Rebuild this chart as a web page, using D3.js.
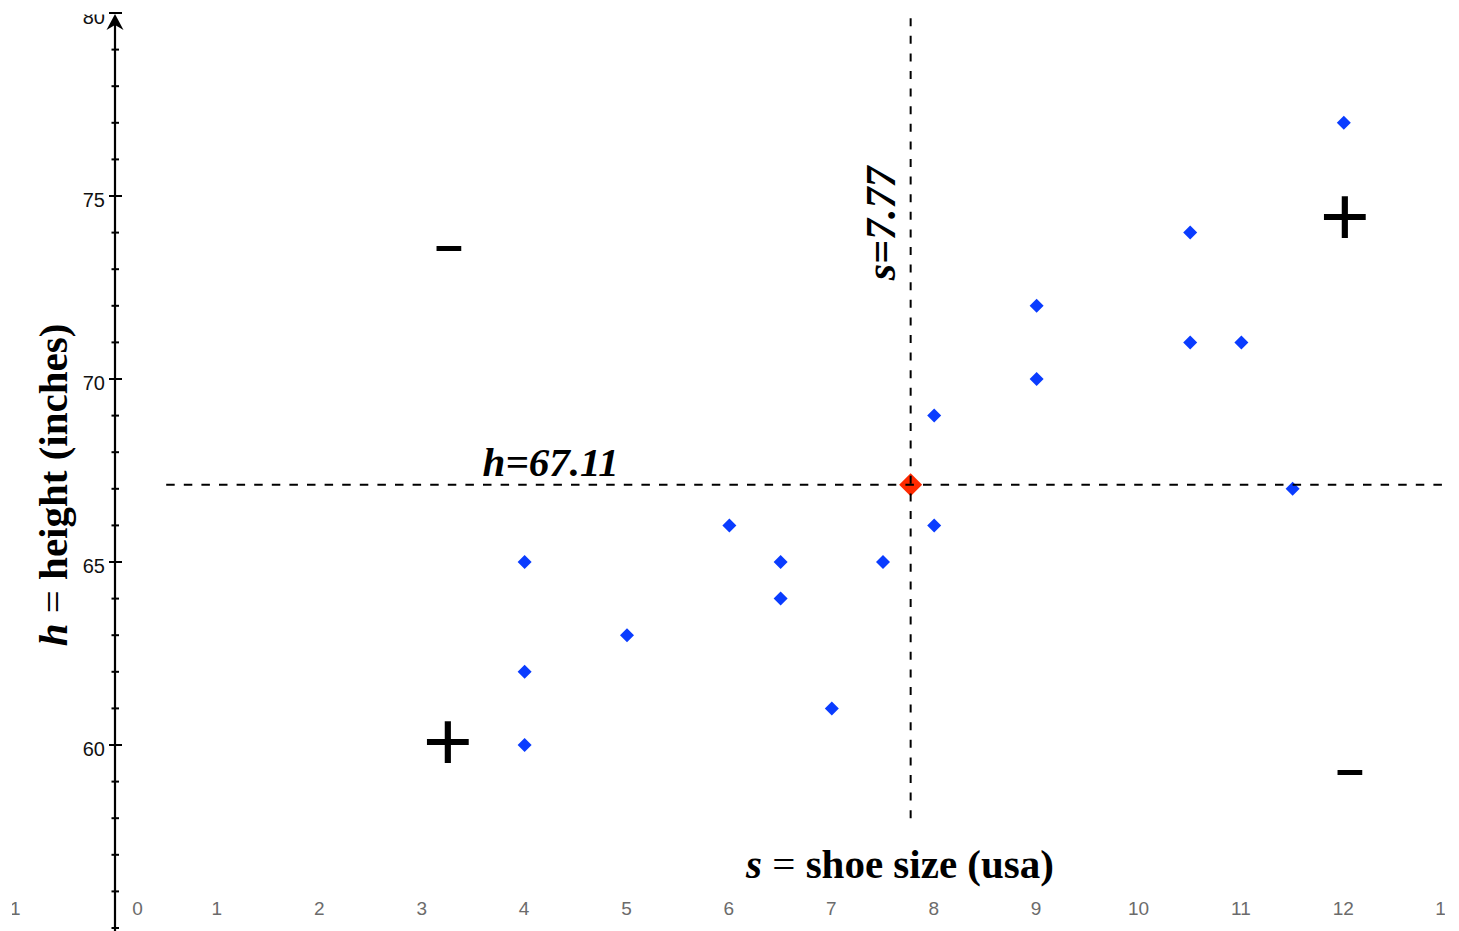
<!DOCTYPE html>
<html>
<head>
<meta charset="utf-8">
<script src="https://cdn.jsdelivr.net/npm/d3@7"></script>
<style>
  html, body { margin: 0; padding: 0; background: #fff; }
  svg { display: block; }
</style>
</head>
<body>
<script>
// ---- data ----
const shoeSize = [4, 4, 4, 5, 6, 6.5, 6.5, 7, 7.5, 8, 8, 9, 9, 10.5, 10.5, 11, 11.5, 12];
const heightIn = [65, 62, 60, 63, 66, 65, 64, 61, 65, 69, 66, 72, 70, 74, 71, 71, 67, 77];
const meanS = 7.77;
const meanH = 67.11;
const xTickValues = [-1, 0, 1, 2, 3, 4, 5, 6, 7, 8, 9, 10, 11, 12, 13];
const xTickLabels = ["-1", "0", "1", "2", "3", "4", "5", "6", "7", "8", "9", "10", "11", "12", "13"];
const yMajorTicks = [60, 65, 70, 75, 80];
const yMajorLabels = ["60", "65", "70", "75", "80"];
const yMinorTicks = [55, 56, 57, 58, 59, 61, 62, 63, 64, 66, 67, 68, 69, 71, 72, 73, 74, 76, 77, 78, 79];
const quadrantSigns = [
  { s: 3.26, h: 73.58, sign: "minus" },
  { s: 12.01, h: 74.48, sign: "plus" },
  { s: 3.25, h: 60.14, sign: "plus" },
  { s: 12.06, h: 59.26, sign: "minus" }
];

const W = 1459, H = 931;
const svg = d3.select("body").append("svg").attr("width", W).attr("height", H);
svg.append("rect").attr("width", W).attr("height", H).attr("fill", "#fff");

const x = d3.scaleLinear().domain([0, 12]).range([115, 115 + 12 * 102.4]);
const y = d3.scaleLinear().domain([60, 80]).range([745, 13]);

const defs = svg.append("defs");
defs.append("clipPath").attr("id", "plotClip")
  .append("rect").attr("x", 12).attr("y", 14.5).attr("width", 1445 - 12).attr("height", H - 14.5);

const serif = "'Liberation Serif', 'Times New Roman', serif";
const sans = "'Liberation Sans', Arial, Helvetica, sans-serif";

// ---- x tick labels (no axis line) ----
const xAxis = d3.axisBottom(x).tickValues(xTickValues)
  .tickFormat((d, i) => xTickLabels[i]).tickSize(0).tickPadding(0);
const gx = svg.append("g").attr("clip-path", "url(#plotClip)")
  .append("g").attr("transform", "translate(-1,901)").call(xAxis);
gx.select(".domain").remove();
gx.selectAll("text")
  .attr("font-family", sans).attr("font-size", 19).attr("fill", "#6b6b6b")
  .attr("dy", "0.71em")
  .attr("dx", d => d === 0 ? 23 : 0);

// ---- y axis ----
const x0 = x(0);
const gyWrap = svg.append("g");
gyWrap.selectAll("line.minor").data(yMinorTicks).join("line")
  .attr("x1", x0 - 3.5).attr("x2", x0 + 4).attr("y1", d => y(d)).attr("y2", d => y(d))
  .attr("stroke", "#000").attr("stroke-width", 2);
gyWrap.selectAll("line.major").data(yMajorTicks).join("line")
  .attr("x1", x0 - 6).attr("x2", x0 + 7).attr("y1", d => y(d)).attr("y2", d => y(d))
  .attr("stroke", "#000").attr("stroke-width", 2);
gyWrap.append("line")
  .attr("x1", x0).attr("x2", x0).attr("y1", H).attr("y2", 22)
  .attr("stroke", "#000").attr("stroke-width", 2.2);
gyWrap.append("path")
  .attr("d", `M${x0},${y(80) + 1} L${x0 + 8.5},${y(80) + 17} L${x0},${y(80) + 12} L${x0 - 8.5},${y(80) + 17} Z`)
  .attr("fill", "#000");
const yAxis = d3.axisLeft(y).tickValues(yMajorTicks)
  .tickFormat((d, i) => yMajorLabels[i]).tickSize(0).tickPadding(0);
const gy = svg.append("g").attr("clip-path", "url(#plotClip)")
  .append("g").attr("transform", `translate(${x0 - 10},4)`).call(yAxis);
gy.select(".domain").remove();
gy.selectAll("text")
  .attr("font-family", sans).attr("font-size", 20).attr("fill", "#111");

// ---- points ----
const diamond = r => `M0,${-r} L${r},0 L0,${r} L${-r},0 Z`;
svg.append("g").selectAll("path").data(shoeSize).join("path")
  .attr("d", diamond(7))
  .attr("transform", (d, i) => `translate(${x(d)},${y(heightIn[i])})`)
  .attr("fill", "#0a3cff");
svg.append("path")
  .attr("d", diamond(11.5))
  .attr("transform", `translate(${x(meanS)},${y(meanH)})`)
  .attr("fill", "#ff2a00");

// ---- mean lines ----
svg.append("line")
  .attr("x1", x(0.5)).attr("x2", x(12.97)).attr("y1", y(meanH)).attr("y2", y(meanH))
  .attr("stroke", "#000").attr("stroke-width", 2).attr("stroke-dasharray", "8.5,9.1");
svg.append("line")
  .attr("x1", x(meanS)).attr("x2", x(meanS)).attr("y1", y(58)).attr("y2", y(80) + 1)
  .attr("stroke", "#000").attr("stroke-width", 2).attr("stroke-dasharray", "8,9.6");

// ---- mean labels ----
svg.append("text")
  .attr("x", x(3.59)).attr("y", y(meanH) - 9)
  .attr("font-family", serif).attr("font-size", 41).attr("font-weight", "bold").attr("font-style", "italic")
  .text("h=" + meanH.toFixed(2));
svg.append("text")
  .attr("transform", `translate(${x(meanS) - 16},${y(74.25)}) rotate(-90)`)
  .attr("text-anchor", "middle")
  .attr("font-family", serif).attr("font-size", 42).attr("font-weight", "bold").attr("font-style", "italic")
  .text("s=" + meanS.toFixed(2));

// ---- axis titles ----
const xt = svg.append("text")
  .attr("x", 900).attr("y", 878).attr("text-anchor", "middle")
  .attr("font-family", serif).attr("font-size", 41).attr("font-weight", "bold");
xt.append("tspan").attr("font-style", "italic").text("s");
xt.append("tspan").attr("font-weight", "normal").text(" = ");
xt.append("tspan").text("shoe size (usa)");

const yt = svg.append("text")
  .attr("transform", "translate(67,485) rotate(-90)").attr("text-anchor", "middle")
  .attr("font-family", serif).attr("font-size", 41).attr("font-weight", "bold");
yt.append("tspan").attr("font-style", "italic").text("h");
yt.append("tspan").attr("font-weight", "normal").text(" = ");
yt.append("tspan").text("height (inches)");

// ---- quadrant signs ----
svg.append("g").selectAll("text").data(quadrantSigns).join("text")
  .attr("x", d => x(d.s))
  .attr("y", d => y(d.h) + (d.sign === "plus" ? 31 : 14))
  .attr("text-anchor", "middle")
  .attr("font-family", sans)
  .attr("font-weight", d => d.sign === "plus" ? "normal" : "bold")
  .attr("font-size", d => d.sign === "plus" ? 86 : 50)
  .attr("fill", "#000")
  .text(d => d.sign === "plus" ? "+" : "\u2013");
</script>
</body>
</html>
